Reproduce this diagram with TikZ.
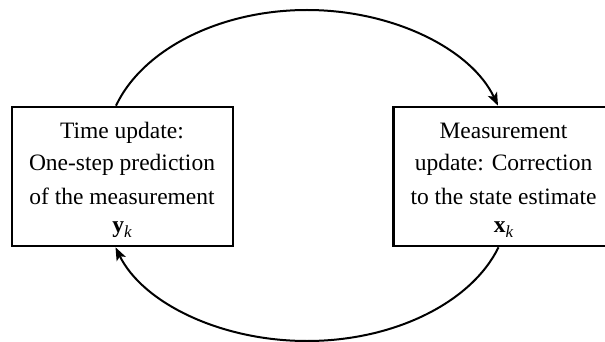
\documentclass[tikz,border=0pt]{standalone}
\usepackage{fontspec}
\setmainfont{Liberation Serif}
\usetikzlibrary{arrows.meta}
\begin{document}
\begin{tikzpicture}[x=1pt,y=-1pt,
  box/.style={draw,line width=2.6pt,minimum width=221pt,minimum height=139pt,inner sep=0pt},
  txt/.style={anchor=base,inner sep=0pt,font=\fontsize{23.5}{33}\selectfont},
  conn/.style={line width=2pt,-{Stealth[length=13pt,width=10pt,inset=3pt]}}]
\useasboundingbox (0,0) rectangle (605,342);
\clip (0,0) rectangle (605,342);
\node[box] (L) at (122.5,176.5) {};
\node[box] (R) at (504,176.5) {};
\node[txt] (L1) at (122,138.5) {Time update:};
\node[txt] (L2) at (122,171) {One-step prediction};
\node[txt] (L3) at (122,204) {of the measurement};
\node[txt] (L4) at (122,232.5) {\textbf{y}\raisebox{-5pt}{\fontsize{17}{17}\selectfont\itshape k}};
\node[txt] (R1) at (503.5,138.5) {Measurement};
\node[txt] (R2) at (503.5,171) {update: Correction};
\node[txt] (R3) at (503.5,204) {to the state estimate};
\node[txt] (R4) at (503.5,232.5) {\textbf{x}\raisebox{-5pt}{\fontsize{17}{17}\selectfont\itshape k}};
\draw[conn] ([xshift=-6.5pt]L.north) .. controls (142.7,49.2) and (219.9,10) .. (307,10)
  .. controls (393.1,10) and (471.3,49.2) .. ([xshift=-6pt]R.north);
\draw[conn] ([xshift=-5.5pt]R.south) .. controls (471.6,302.4) and (394.2,341) .. (307,341)
  .. controls (219.8,341) and (142.4,302.4) .. ([xshift=-7pt]L.south);
\end{tikzpicture}
\end{document}
